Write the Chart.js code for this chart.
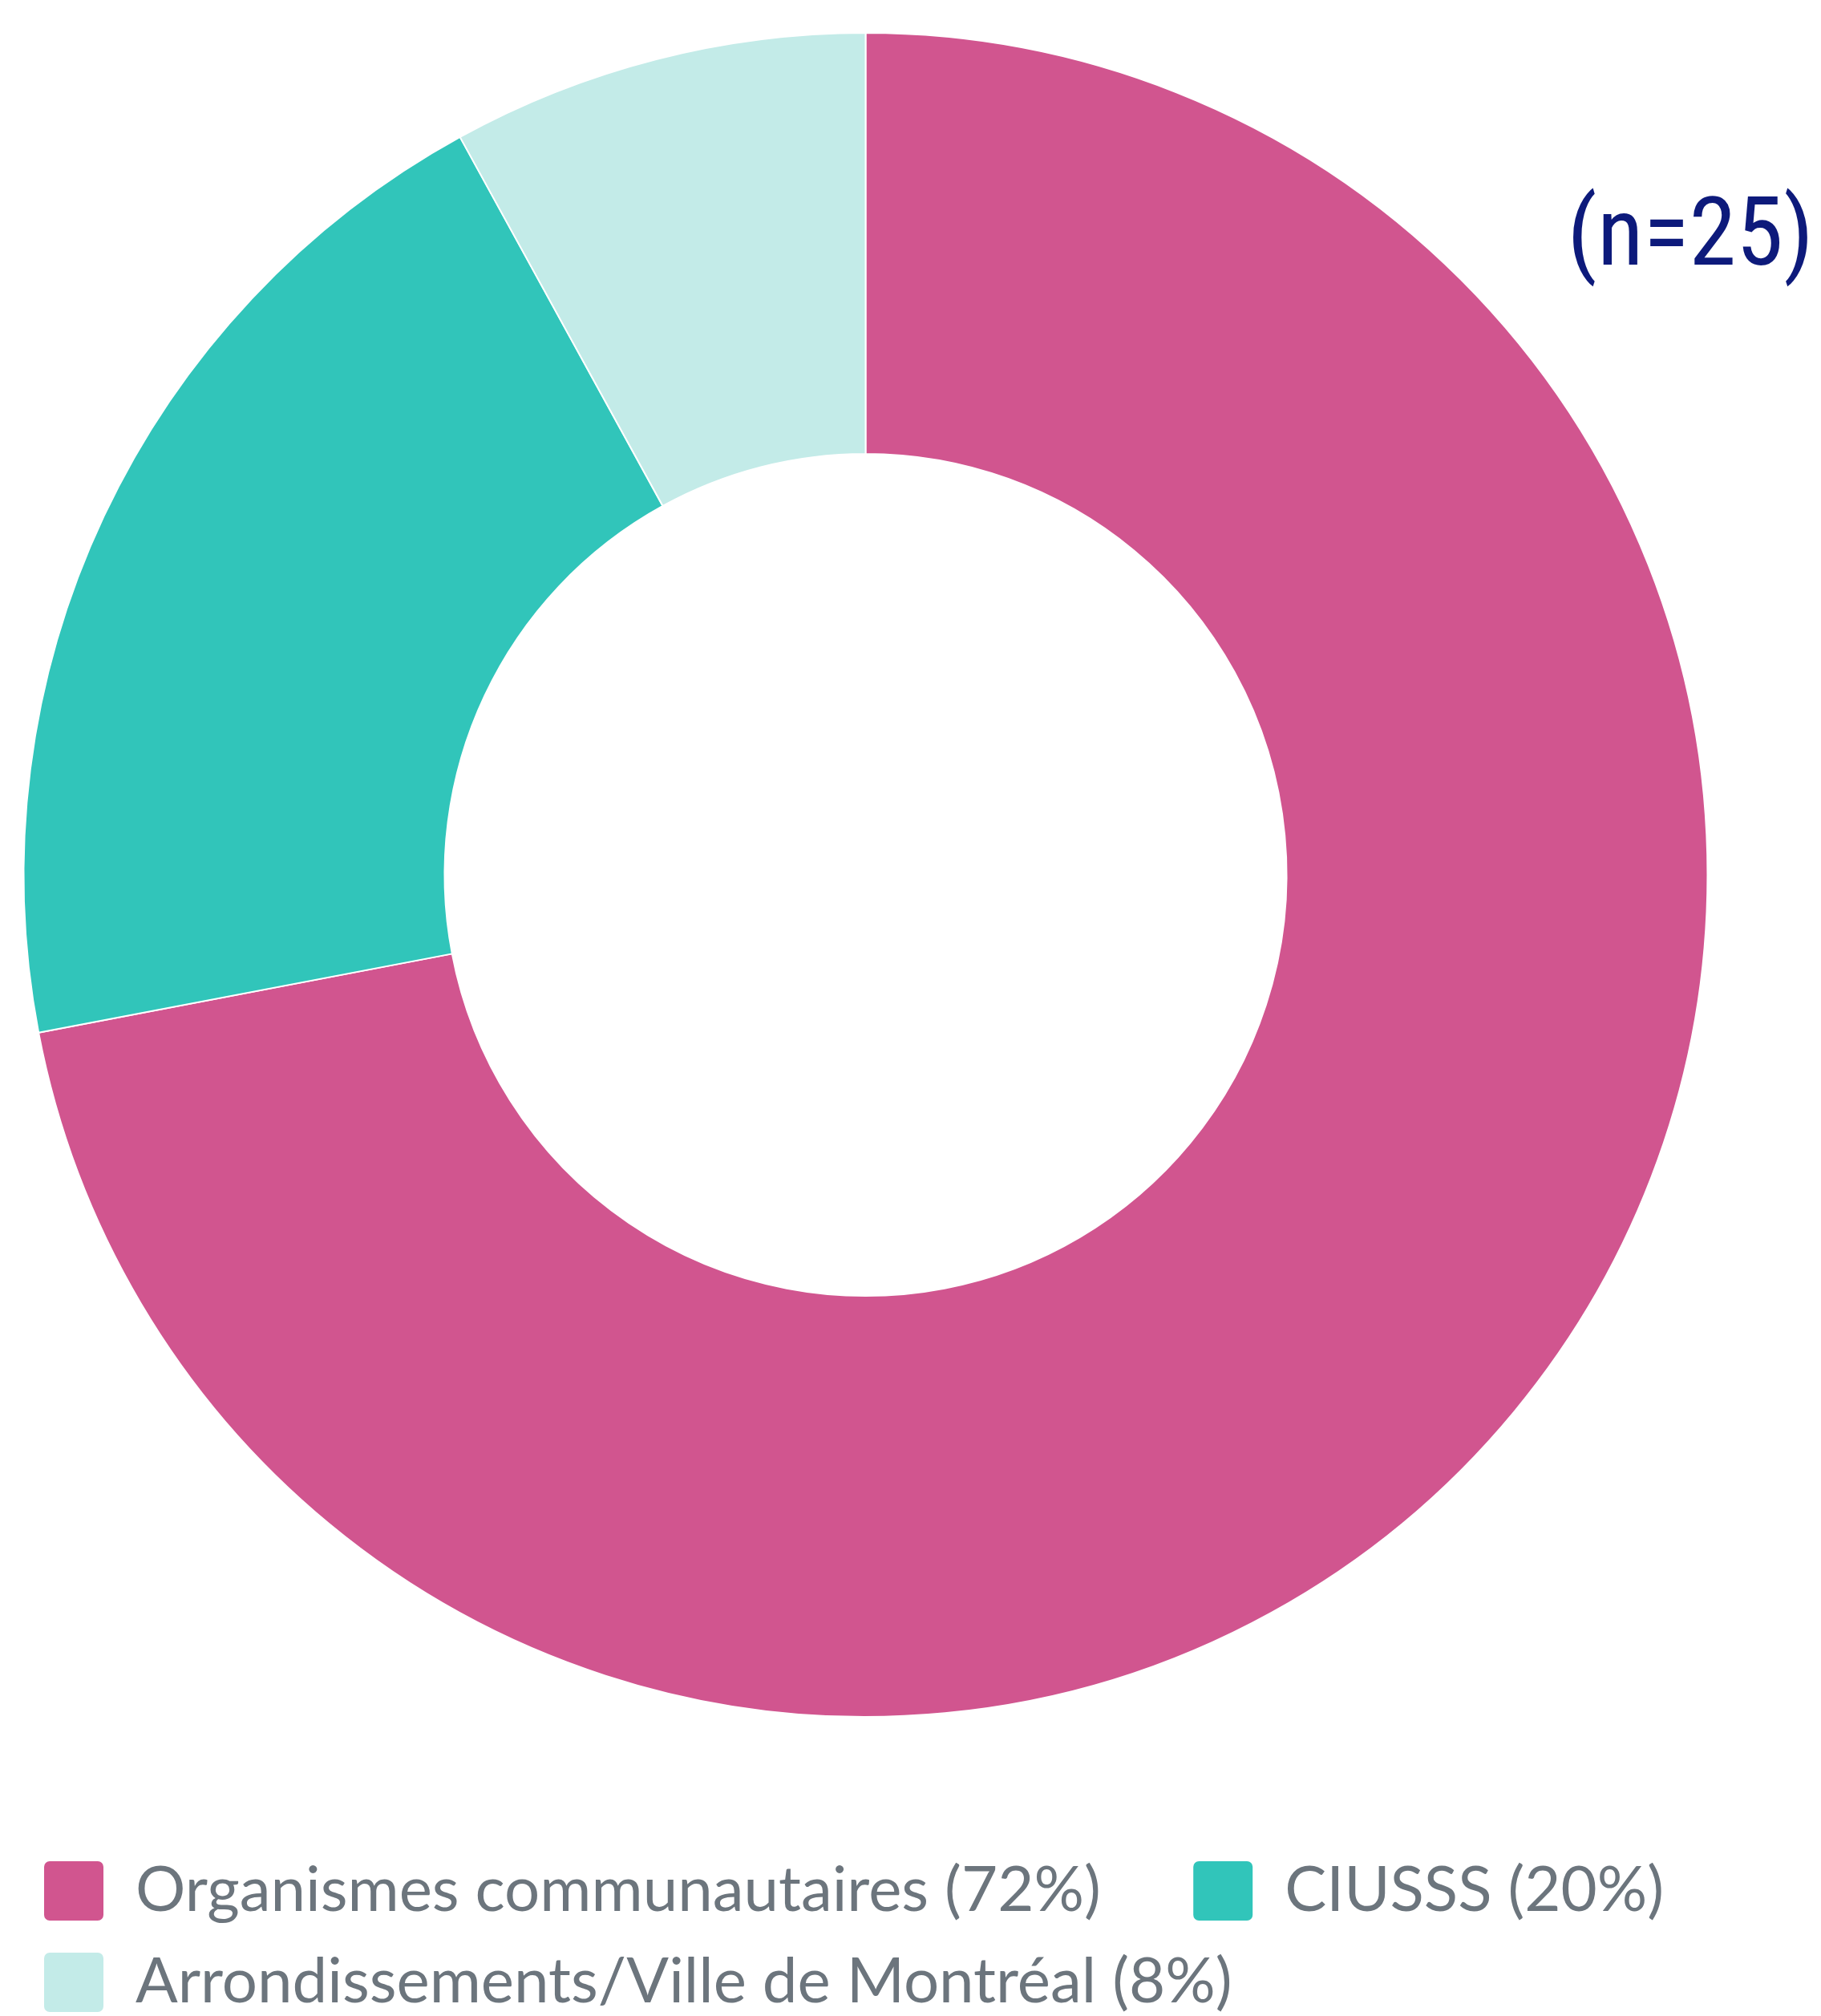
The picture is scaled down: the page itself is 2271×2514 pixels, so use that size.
<!DOCTYPE html>
<html lang="fr">
<head>
<meta charset="utf-8">
<title>Répartition des organismes</title>
<script src="https://cdn.jsdelivr.net/npm/chart.js@4/dist/chart.umd.min.js"></script>
<style>
	html, body { margin: 0; padding: 0; background: #ffffff; }
	canvas { display: block; }
</style>
</head>
<body>
<canvas id="repartition" width="2271" height="2514"></canvas>
<script>
// Données
const categories = ["Organismes communautaires", "CIUSSS", "Arrondissements/Ville de Montréal"];
const percentages = [72, 20, 8];
const sampleSize = 25;

const sliceColors = ["#d1558f", "#31c5ba", "#c3ebe8"];

const legendLabels = categories.map((name, i) => `${name} (${percentages[i]}%)`);

//Étiquette (n=25) en haut à droite
const sampleSizeLabel = {
	id: "sampleSizeLabel",
	afterDraw(chart) {
		const {ctx} = chart;
		ctx.save();
		ctx.font = '119px "Liberation Sans Narrow", "Roboto Condensed", "Liberation Sans", sans-serif';
		ctx.fillStyle = "#0d1a7b";
		ctx.textAlign = "right";
		ctx.textBaseline = "alphabetic";
		ctx.fillText(`(n=${sampleSize})`, chart.width - 9, 330);
		ctx.restore();
	}
};

const defaultLabels = Chart.overrides.doughnut.plugins.legend.labels.generateLabels;

const data = {
	labels: legendLabels,
	datasets: [
		{
			data: percentages,
			backgroundColor: sliceColors,
			borderColor: "#ffffff",
			borderWidth: 2,
			hoverOffset: 0
		}
	]
};

const config = {
	type: "doughnut",
	data,
	options: {
		responsive: false,
		animation: false,
		cutout: "50%",
		radius: 1050,
		layout: {
			padding: {top: 0, left: 18, right: 130, bottom: -7}
		},
		plugins: {
			tooltip: {enabled: false},
			legend: {
				position: "bottom",
				align: "start",
				//espace vide entre l'anneau et la légende
				title: {
					display: true,
					text: "",
					font: {size: 1, lineHeight: 1},
					padding: {top: 100, bottom: 0}
				},
				labels: {
					color: "#6c757d",
					font: {family: "Lato", size: 78},
					boxWidth: 76,
					boxHeight: 76,
					padding: 36,
					useBorderRadius: true,
					borderRadius: 8,
					generateLabels: (chart) => defaultLabels(chart).map((item, i) => ({
						...item,
						text: i === 0 ? item.text + "\u2003 " : item.text
					}))
				}
			}
		}
	},
	plugins: [sampleSizeLabel]
};

new Chart(document.getElementById("repartition"), config);
</script>
</body>
</html>
